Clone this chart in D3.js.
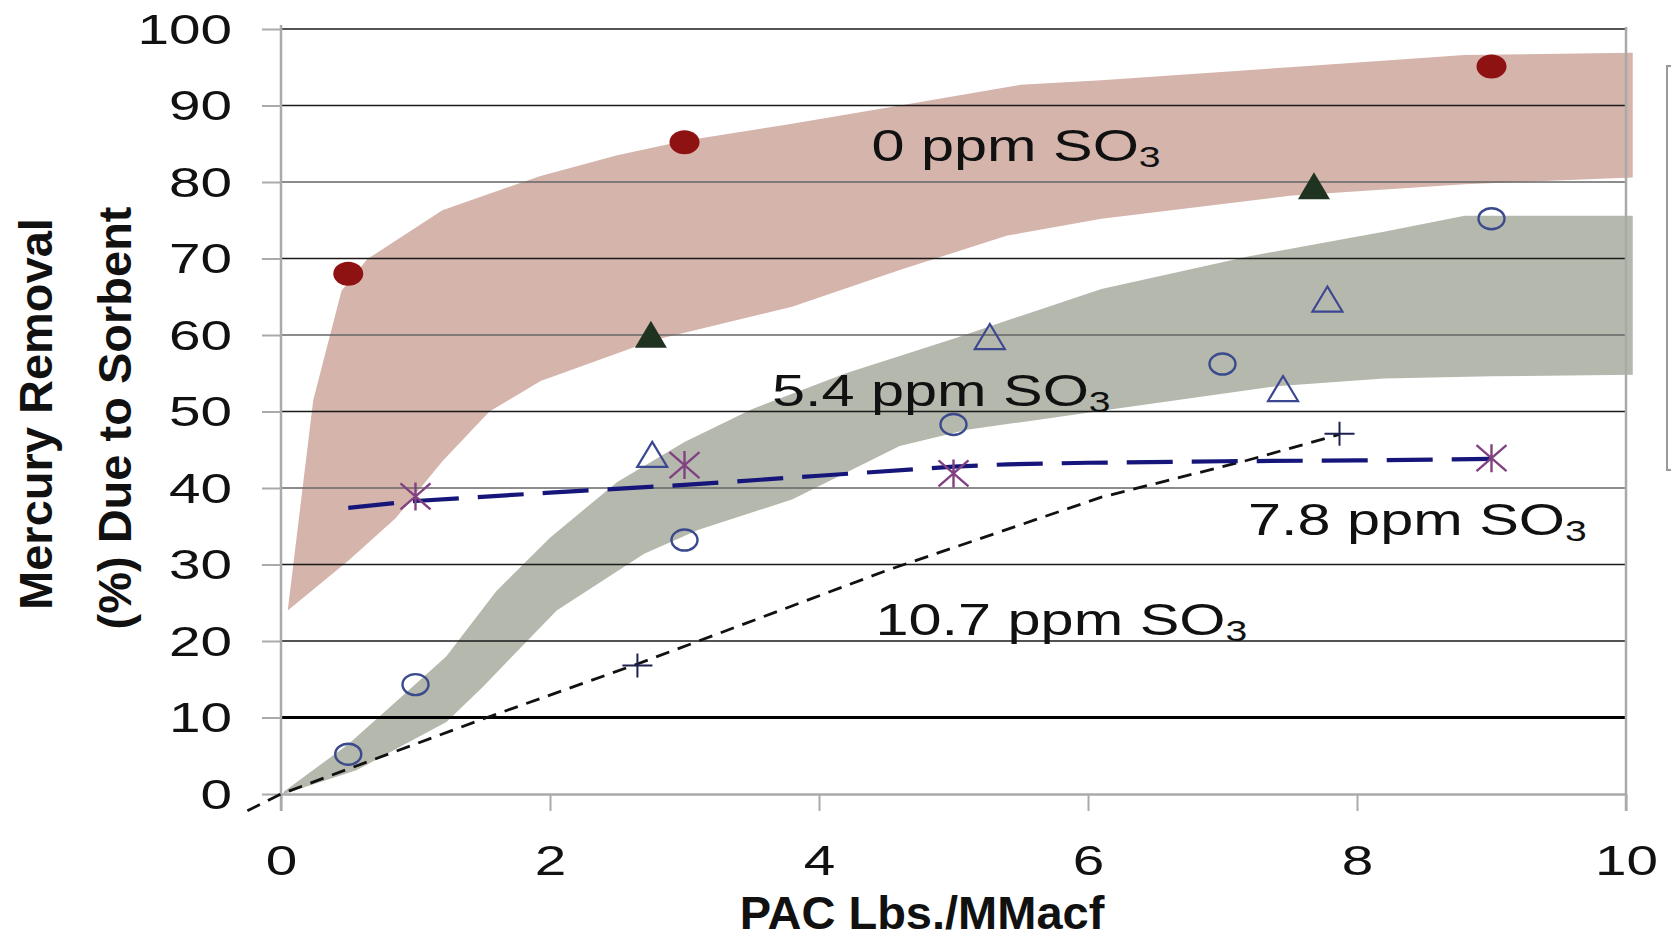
<!DOCTYPE html>
<html>
<head>
<meta charset="utf-8">
<script src="https://cdn.jsdelivr.net/npm/d3@7"></script>
<style>
  html, body { margin: 0; padding: 0; background: #fff; }
  svg { display: block; }
  text { font-family: "Liberation Sans", Arial, sans-serif; fill: #111; }
</style>
</head>
<body>
<div id="chart"></div>
<script>
// Mercury removal vs PAC injection rate at several SO3 levels

const xTicks = [0, 2, 4, 6, 8, 10];
const yTicks = [0, 10, 20, 30, 40, 50, 60, 70, 80, 90, 100];

// shaded bands [x, y] (upper edge, lower edge)
const band0Upper = [[0.05, 24], [0.24, 51.5], [0.45, 65.8], [0.64, 69.9], [1.2, 76.3], [1.93, 80.8], [2.5, 83.5], [3, 85.4], [3.8, 87.6], [4.7, 90.3], [5.5, 92.7], [6.1, 93.3], [7.5, 95], [8.8, 96.6], [10.05, 96.9]];
const band0Lower = [[0.05, 24], [0.5, 30.5], [0.85, 36], [1.2, 43.5], [1.55, 50], [1.93, 54], [2.77, 59.3], [3.8, 63.7], [4.6, 68.5], [5.4, 73], [6.1, 75.2], [7.5, 78.2], [8.8, 79.7], [10.05, 80.6]];
const band54Upper = [[0.02, 0.3], [0.5, 6.5], [0.85, 12], [1.23, 18], [1.6, 26.5], [2, 33.5], [2.5, 40.8], [3, 46], [3.5, 50.3], [4.2, 55], [5, 59.5], [5.5, 62.5], [6.1, 66], [7.2, 70.3], [8.2, 73.5], [8.8, 75.6], [10.05, 75.6]];
const band54Lower = [[0.02, 0], [0.56, 3.1], [1.23, 9.4], [1.5, 14], [2.05, 24], [2.7, 31.4], [3.1, 34.5], [3.8, 38.5], [4.6, 45.5], [5.1, 47.6], [6.1, 50.1], [7.4, 53.3], [8.2, 54.3], [9, 54.6], [10.05, 54.8]];

// measured points
const so3_0Dots = [[0.5, 68], [3, 85.2], [9, 95.1]];
const so3_0Tris = [[2.75, 60.1], [7.68, 79.5]];
const so3_54Tris = [[2.76, 44.4], [5.27, 59.8], [7.45, 53], [7.78, 64.7]];
const so3_54Circles = [[0.5, 5.2], [1, 14.3], [3, 33.2], [5, 48.3], [7, 56.2], [9, 75.2]];
const so3_78Stars = [[1, 38.9], [3, 43], [5, 41.9], [9, 43.9]];
const so3_78Fit = [[0.5, 37.4], [1, 38.3], [2, 39.4], [3, 40.4], [4, 41.6], [5, 42.8], [5.4, 43.1], [6, 43.3], [7, 43.5], [8, 43.6], [9, 43.8]];
const so3_107Plus = [[2.65, 16.8], [7.87, 47.1]];
const so3_107Fit = [[-0.25, -2.2], [0, 0], [1.5, 9.8], [2.65, 17], [4.5, 29.2], [6.1, 38.8], [7.16, 43.5], [7.87, 47]];

const bandLabels = [
  {text: "0 ppm SO", x: 4.39, y: 82.75},
  {text: "5.4 ppm SO", x: 3.65, y: 50.7},
  {text: "7.8 ppm SO", x: 7.19, y: 33.86},
  {text: "10.7 ppm SO", x: 4.42, y: 20.8}
];

const width = 1671, height = 940;
const margin = {top: 29, right: 45, bottom: 146, left: 281};
const innerW = width - margin.left - margin.right;
const innerH = height - margin.top - margin.bottom;
const stretch = 1.35;

const svg = d3.select("#chart").append("svg")
    .attr("width", width)
    .attr("height", height);

const g = svg.append("g")
    .attr("transform", `translate(${margin.left}, ${margin.top})`);

const x = d3.scaleLinear().domain([0, 10]).range([0, innerW]);
const y = d3.scaleLinear().domain([0, 100]).range([innerH, 0]);

// bands
const poly = d3.line().x(d => x(d[0])).y(d => y(d[1])).curve(d3.curveLinearClosed);
g.append("path")
    .attr("d", poly(band0Upper.concat(band0Lower.slice().reverse())))
    .attr("fill", "#d4b4ab");
g.append("path")
    .attr("d", poly(band54Upper.concat(band54Lower.slice().reverse())))
    .attr("fill", "#b5b8ad");

// gridlines
g.append("g").selectAll("line")
    .data(yTicks.filter(d => d > 0))
    .join("line")
    .attr("x1", 0).attr("x2", innerW)
    .attr("y1", d => y(d)).attr("y2", d => y(d))
    .attr("stroke", d => d === 10 ? "#000" : (d === 40 || d === 60 || d === 80) ? "#666" : "#1a1a1a")
    .attr("stroke-width", d => d === 10 ? 3.2 : 1.6);

// axes
const yAxis = g.append("g")
    .call(d3.axisLeft(y).tickValues(yTicks).tickSize(19).tickSizeOuter(0));
yAxis.select(".domain").remove();
yAxis.selectAll("line").attr("stroke", "#aaa").attr("stroke-width", 2);
yAxis.selectAll("text")
    .attr("x", 0).attr("dy", null)
    .attr("dominant-baseline", "central")
    .attr("transform", `translate(-49,0) scale(${stretch},1)`)
    .style("font-size", "42px")
    .style("font-family", "'Liberation Sans', Arial, sans-serif")
    .attr("fill", "#111");

const xAxis = g.append("g")
    .attr("transform", `translate(0, ${innerH})`)
    .call(d3.axisBottom(x).tickValues(xTicks).tickSize(17).tickSizeOuter(0));
xAxis.select(".domain").attr("stroke", "#aaa").attr("stroke-width", 2.5);
xAxis.selectAll("line").attr("stroke", "#aaa").attr("stroke-width", 2);
xAxis.selectAll("text")
    .attr("y", 0).attr("dy", null)
    .attr("dominant-baseline", "central")
    .attr("transform", `translate(0,67) scale(${stretch},1)`)
    .style("font-size", "42px")
    .style("font-family", "'Liberation Sans', Arial, sans-serif")
    .attr("fill", "#111");

// plot frame sides
g.append("line")
    .attr("x1", 0).attr("x2", 0).attr("y1", -4).attr("y2", innerH + 17)
    .attr("stroke", "#aaa").attr("stroke-width", 2.5);
g.append("line")
    .attr("x1", innerW).attr("x2", innerW).attr("y1", -2).attr("y2", innerH + 17)
    .attr("stroke", "#aaa").attr("stroke-width", 2.5);

// legend box edge (cut off at the right)
svg.append("rect")
    .attr("x", 1667).attr("y", 66).attr("width", 20).attr("height", 404)
    .attr("fill", "none").attr("stroke", "#999").attr("stroke-width", 2);

// fit lines
const line = d3.line().x(d => x(d[0])).y(d => y(d[1]));
g.append("path")
    .attr("d", line(so3_107Fit))
    .attr("fill", "none").attr("stroke", "#111")
    .attr("stroke-width", 2.8).attr("stroke-dasharray", "14,9");
g.append("path")
    .attr("d", line(so3_78Fit))
    .attr("fill", "none").attr("stroke", "#16167a")
    .attr("stroke-width", 4.2).attr("stroke-dasharray", "46,19");

// markers
g.append("g").selectAll("ellipse")
    .data(so3_0Dots)
    .join("ellipse")
    .attr("cx", d => x(d[0])).attr("cy", d => y(d[1]))
    .attr("rx", 15).attr("ry", 12)
    .attr("fill", "#8f1212");

const triPath = "M0,-13.5 L16,13.5 L-16,13.5 Z";
g.append("g").selectAll("path")
    .data(so3_0Tris)
    .join("path")
    .attr("d", triPath)
    .attr("transform", d => `translate(${x(d[0])},${y(d[1])})`)
    .attr("fill", "#1f3320");

g.append("g").selectAll("path")
    .data(so3_54Tris)
    .join("path")
    .attr("d", "M0,-12.5 L15,12.5 L-15,12.5 Z")
    .attr("transform", d => `translate(${x(d[0])},${y(d[1])})`)
    .attr("fill", "none").attr("stroke", "#3b4790").attr("stroke-width", 2.2);

g.append("g").selectAll("ellipse")
    .data(so3_54Circles)
    .join("ellipse")
    .attr("cx", d => x(d[0])).attr("cy", d => y(d[1]))
    .attr("rx", 13).attr("ry", 10.5)
    .attr("fill", "none").attr("stroke", "#3b4a8c").attr("stroke-width", 2.4);

g.append("g").selectAll("path")
    .data(so3_78Stars)
    .join("path")
    .attr("d", "M-15,-13 L15,13 M-15,13 L15,-13 M0,-14 L0,14")
    .attr("transform", d => `translate(${x(d[0])},${y(d[1])})`)
    .attr("fill", "none").attr("stroke", "#824282").attr("stroke-width", 2.4);

g.append("g").selectAll("path")
    .data(so3_107Plus)
    .join("path")
    .attr("d", "M-15,0 L15,0 M0,-12 L0,12")
    .attr("transform", d => `translate(${x(d[0])},${y(d[1])})`)
    .attr("fill", "none").attr("stroke", "#1c2150").attr("stroke-width", 2);

// band labels with subscript 3
const lbl = g.append("g").selectAll("text")
    .data(bandLabels)
    .join("text")
    .attr("transform", d => `translate(${x(d.x)},${y(d.y)}) scale(${stretch},1)`)
    .style("font-size", "44px");
lbl.append("tspan").text(d => d.text);
lbl.append("tspan").text("3").attr("dy", 6).style("font-size", "29px");

// axis titles
svg.append("text")
    .attr("x", 922).attr("y", 929)
    .attr("text-anchor", "middle")
    .style("font-size", "47px").style("font-weight", "bold")
    .attr("fill", "#000")
    .text("PAC Lbs./MMacf");

const yTitle = svg.append("g")
    .attr("transform", "translate(0, 414) rotate(-90)");
yTitle.append("text")
    .attr("x", 0).attr("y", 52)
    .attr("text-anchor", "middle")
    .style("font-size", "47px").style("font-weight", "bold")
    .attr("fill", "#000")
    .text("Mercury Removal");
yTitle.append("text")
    .attr("x", -4).attr("y", 131)
    .attr("text-anchor", "middle")
    .style("font-size", "47px").style("font-weight", "bold")
    .attr("fill", "#000")
    .text("(%) Due to Sorbent");
</script>
</body>
</html>
